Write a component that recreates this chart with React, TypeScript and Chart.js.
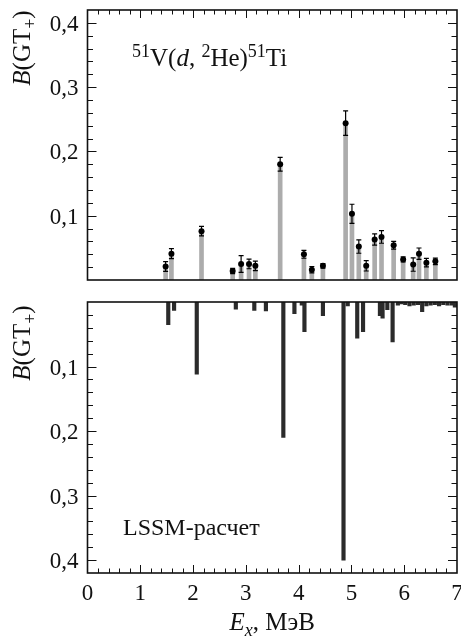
import React, { useEffect, useRef } from 'react';
import { Chart, registerables } from 'chart.js';

Chart.register(...registerables);

// ---- data ----
const expEnergy = [1.48, 1.59, 2.16, 2.75, 2.91, 3.06, 3.18, 3.65, 4.10, 4.25, 4.46, 4.89, 5.01, 5.14, 5.28, 5.44, 5.57, 5.80, 5.98, 6.17, 6.28, 6.42, 6.59];
const expStrength = [0.021, 0.041, 0.076, 0.014, 0.025, 0.025, 0.022, 0.180, 0.040, 0.016, 0.022, 0.244, 0.103, 0.052, 0.022, 0.063, 0.067, 0.054, 0.032, 0.024, 0.041, 0.027, 0.029];
const expError = [0.0075, 0.0078, 0.0073, 0.004, 0.013, 0.0075, 0.0075, 0.0106, 0.0062, 0.005, 0.0036, 0.019, 0.0148, 0.0104, 0.008, 0.0086, 0.0098, 0.006, 0.004, 0.0104, 0.0088, 0.0065, 0.005];

const calcEnergy = [1.53, 1.64, 2.07, 2.81, 3.16, 3.38, 3.71, 3.92, 4.06, 4.11, 4.46, 4.85, 4.93, 5.11, 5.22, 5.54, 5.59, 5.68, 5.78, 5.88, 5.95, 6.02, 6.10, 6.18, 6.26, 6.34, 6.42, 6.50, 6.58, 6.66, 6.74, 6.82, 6.90, 6.96];
const calcStrength = [0.035, 0.013, 0.112, 0.011, 0.013, 0.014, 0.210, 0.018, 0.005, 0.046, 0.021, 0.400, 0.006, 0.056, 0.046, 0.021, 0.025, 0.012, 0.062, 0.005, 0.003, 0.004, 0.006, 0.005, 0.004, 0.015, 0.006, 0.005, 0.004, 0.006, 0.004, 0.005, 0.005, 0.008];

const yTickValues = [0.1, 0.2, 0.3, 0.4];
const xTickValues = [0, 1, 2, 3, 4, 5, 6, 7];
const X_MIN = 0;
const X_MAX = 7;
const Y_MAX = 0.42;

const FONT = '"Liberation Serif", "Times New Roman", serif';
const FS = 23;
const TFS = 25;

type Part = { t: string; italic?: boolean; sup?: boolean; sub?: boolean };

function partFont(p: Part, size: number) {
  const s = p.sup || p.sub ? Math.round(size * 0.72) : size;
  return `${p.italic ? 'italic ' : ''}${s}px ${FONT}`;
}
function richWidth(ctx: CanvasRenderingContext2D, parts: Part[], size: number) {
  let w = 0;
  for (const p of parts) {
    ctx.font = partFont(p, size);
    w += ctx.measureText(p.t).width;
  }
  return w;
}
function drawRich(ctx: CanvasRenderingContext2D, parts: Part[], x: number, y: number, size: number) {
  let cx = x;
  ctx.textBaseline = 'alphabetic';
  ctx.textAlign = 'left';
  for (const p of parts) {
    ctx.font = partFont(p, size);
    const dy = p.sup ? -size * 0.38 : p.sub ? size * 0.25 : 0;
    ctx.fillText(p.t, cx, y + dy);
    cx += ctx.measureText(p.t).width;
  }
}

const yTitle: Part[] = [{ t: 'B', italic: true }, { t: '(GT' }, { t: '+', sub: true }, { t: ')' }];

function fmt(v: number) {
  return v.toFixed(1).replace('.', ',');
}

function framePlugin(o: { topTicks: boolean; bottomTicks: boolean; xLabels: boolean }) {
  return {
    id: 'frameTicks',
    afterDraw(chart: any) {
      const { ctx, chartArea: a, scales } = chart;
      const xs = scales.x;
      const ys = scales.y;
      ctx.save();
      ctx.strokeStyle = '#111';
      ctx.lineWidth = 1;
      ctx.beginPath();
      for (let i = 1; i < 35; i++) {
        const px = Math.round(xs.getPixelForValue(i * 0.2)) + 0.5;
        const len = i % 5 === 0 ? 8 : 4.5;
        if (o.topTicks) { ctx.moveTo(px, a.top); ctx.lineTo(px, a.top + len); }
        if (o.bottomTicks) { ctx.moveTo(px, a.bottom); ctx.lineTo(px, a.bottom - len); }
      }
      for (let i = 1; i < 21; i++) {
        const py = Math.round(ys.getPixelForValue(i * 0.02)) + 0.5;
        const len = i % 5 === 0 ? 9 : 5.5;
        ctx.moveTo(a.left, py); ctx.lineTo(a.left + len, py);
        ctx.moveTo(a.right, py); ctx.lineTo(a.right - len, py);
      }
      ctx.stroke();
      ctx.lineWidth = 1.6;
      ctx.strokeRect(a.left, a.top, a.right - a.left, a.bottom - a.top);

      // tick labels
      ctx.fillStyle = '#111';
      ctx.font = `${FS}px ${FONT}`;
      ctx.textBaseline = 'alphabetic';
      ctx.textAlign = 'right';
      for (const v of yTickValues) {
        ctx.fillText(fmt(v), a.left - 9, ys.getPixelForValue(v) + 8);
      }
      if (o.xLabels) {
        ctx.textAlign = 'center';
        for (const v of xTickValues) {
          ctx.fillText(String(v), xs.getPixelForValue(v), a.bottom + 27);
        }
      }
      ctx.restore();
    },
  };
}

export default function App() {
  const topRef = useRef<HTMLCanvasElement>(null);
  const botRef = useRef<HTMLCanvasElement>(null);

  useEffect(() => {
    const errorPlugin = {
      id: 'errBars',
      afterDatasetDraw(chart: any, args: any) {
        if (args.index !== 0) return;
        const { ctx, scales } = chart;
        ctx.save();
        ctx.strokeStyle = '#000';
        ctx.lineWidth = 1.2;
        ctx.beginPath();
        expEnergy.forEach((e, i) => {
          const px = scales.x.getPixelForValue(e);
          const y1 = scales.y.getPixelForValue(expStrength[i] + expError[i]);
          const y2 = scales.y.getPixelForValue(expStrength[i] - expError[i]);
          ctx.moveTo(px, y1); ctx.lineTo(px, y2);
          ctx.moveTo(px - 2.5, y1); ctx.lineTo(px + 2.5, y1);
          ctx.moveTo(px - 2.5, y2); ctx.lineTo(px + 2.5, y2);
        });
        ctx.stroke();
        ctx.restore();
      },
    };
    const topText = {
      id: 'topText',
      afterDraw(chart: any) {
        const { ctx } = chart;
        ctx.save();
        ctx.fillStyle = '#111';
        drawRich(ctx, [
          { t: '51', sup: true }, { t: 'V(' }, { t: 'd', italic: true }, { t: ', ' },
          { t: '2', sup: true }, { t: 'He)' }, { t: '51', sup: true }, { t: 'Ti' },
        ], 132, 66, TFS);
        const w = richWidth(ctx, yTitle, TFS);
        ctx.translate(30, 48);
        ctx.rotate(-Math.PI / 2);
        drawRich(ctx, yTitle, -w / 2, 0, TFS);
        ctx.restore();
      },
    };
    const botText = {
      id: 'botText',
      afterDraw(chart: any) {
        const { ctx, chartArea: a } = chart;
        ctx.save();
        ctx.fillStyle = '#111';
        drawRich(ctx, [{ t: 'LSSM-расчет' }], 123, 245, 24);
        const xt: Part[] = [{ t: 'E', italic: true }, { t: 'x', italic: true, sub: true }, { t: ', МэВ' }];
        const xw = richWidth(ctx, xt, TFS);
        drawRich(ctx, xt, (a.left + a.right) / 2 - xw / 2, 340, TFS);
        const w = richWidth(ctx, yTitle, TFS);
        ctx.translate(30, 53);
        ctx.rotate(-Math.PI / 2);
        drawRich(ctx, yTitle, -w / 2, 0, TFS);
        ctx.restore();
      },
    };

    const yScale = (reverse: boolean) => ({
      type: 'linear',
      min: 0,
      max: Y_MAX,
      reverse,
      grid: { display: false, drawTicks: false },
      border: { display: false },
      ticks: { display: false },
      afterFit: (s: any) => { s.width = 87.5; },
    });

    const top = new Chart(topRef.current!, {
      type: 'bar',
      data: {
        datasets: [
          {
            type: 'bar',
            data: expEnergy.map((x, i) => ({ x, y: expStrength[i] })),
            backgroundColor: '#acacac',
            barThickness: 4,
            order: 2,
          } as any,
          {
            type: 'scatter',
            data: expEnergy.map((x, i) => ({ x, y: expStrength[i] })),
            pointRadius: 3,
            pointBackgroundColor: '#000',
            pointBorderWidth: 0,
            showLine: false,
            order: 1,
          } as any,
        ],
      },
      options: {
        animation: false,
        responsive: false,
        maintainAspectRatio: false,
        layout: { padding: { left: 0, right: 4, top: 10, bottom: 0 } },
        plugins: { legend: { display: false }, tooltip: { enabled: false } },
        scales: {
          x: {
            type: 'linear', min: X_MIN, max: X_MAX, offset: false,
            grid: { display: false, drawTicks: false }, border: { display: false },
            ticks: { display: false },
            afterFit: (s: any) => { s.height = 10; },
          },
          y: yScale(false),
        } as any,
      },
      plugins: [errorPlugin, framePlugin({ topTicks: true, bottomTicks: false, xLabels: false }), topText],
    });

    const bot = new Chart(botRef.current!, {
      type: 'bar',
      data: {
        datasets: [
          {
            type: 'bar',
            data: calcEnergy.map((x, i) => ({ x, y: calcStrength[i] })),
            backgroundColor: '#2b2b2b',
            barThickness: 3.5,
          } as any,
        ],
      },
      options: {
        animation: false,
        responsive: false,
        maintainAspectRatio: false,
        layout: { padding: { left: 0, right: 4, top: 12, bottom: 0 } },
        plugins: { legend: { display: false }, tooltip: { enabled: false } },
        scales: {
          x: {
            type: 'linear', min: X_MIN, max: X_MAX, offset: false,
            grid: { display: false, drawTicks: false }, border: { display: false },
            ticks: { display: false },
            afterFit: (s: any) => { s.height = 64; },
          },
          y: yScale(true),
        } as any,
      },
      plugins: [framePlugin({ topTicks: false, bottomTicks: true, xLabels: true }), botText],
    });

    return () => { top.destroy(); bot.destroy(); };
  }, []);

  return (
    <div style={{ position: 'fixed', left: 0, top: 0, width: 461, height: 637, background: '#fff' }}>
      <canvas ref={topRef} width={461} height={290} style={{ position: 'absolute', left: 0, top: 0, width: 461, height: 290 }} />
      <canvas ref={botRef} width={461} height={347} style={{ position: 'absolute', left: 0, top: 290, width: 461, height: 347 }} />
    </div>
  );
}
